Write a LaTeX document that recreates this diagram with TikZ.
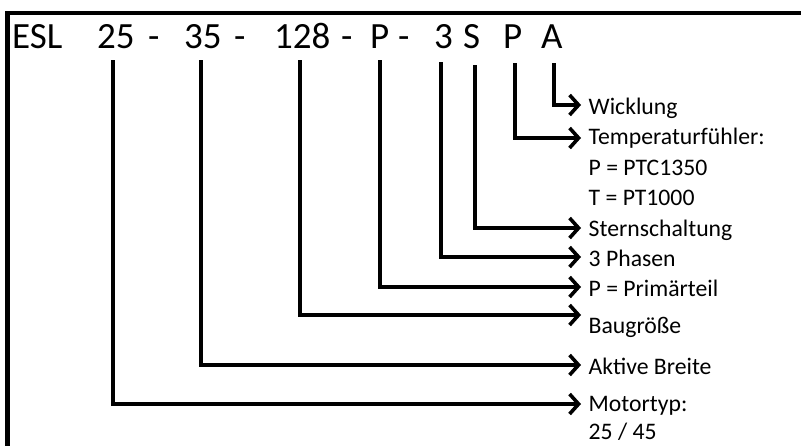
\documentclass[tikz,border=0pt]{standalone}
\usepackage{fontspec}
\setmainfont{Carlito}
\usetikzlibrary{arrows.meta}
\begin{document}
\begin{tikzpicture}[x=1pt,y=-1pt,
  code/.style={anchor=base west,inner sep=0pt,font=\fontsize{37}{44}\selectfont},
  lab/.style={anchor=base west,inner xsep=7.5pt,inner ysep=0pt,text height=19pt,text depth=5pt,font=\fontsize{23.7}{28}\selectfont},
  conn/.style={line width=3.8pt,-{Straight Barb[length=9pt,width=20pt,line width=3.6pt]}},
  frame/.style={line width=4.8pt}]
\useasboundingbox (0,0) rectangle (801,445);
% frame
\draw[frame] (7.5,450) -- (7.5,13) -- (806,13);
% code tokens
\node[code] (esl) at (12,48) {ESL};
\node[code] (n25) at (97,48) {25};
\node[code] (d1) at (148,48) {-};
\node[code] (n35) at (184,48) {35};
\node[code] (d2) at (234,48) {-};
\node[code] (n128) at (274,48) {128};
\node[code] (d3) at (341,48) {-};
\node[code] (nP) at (370,48) {P};
\node[code] (d4) at (398,48) {-};
\node[code] (n3) at (434,48) {3};
\node[code] (nS) at (463,48) {S};
\node[code] (nP2) at (503,48) {P};
\node[code] (nA) at (541,48) {A};
% labels
\node[lab] (wick) at (581,114) {Wicklung};
\node[lab] (temp) at (581,144) {Temperaturfühler:};
\node[lab] (ptc) at (581,175) {P = PTC1350};
\node[lab] (pt) at (581,205) {T = PT1000};
\node[lab] (stern) at (581,236) {Sternschaltung};
\node[lab] (phas) at (581,266) {3 Phasen};
\node[lab] (prim) at (581,296) {P = Primärteil};
\node[lab] (bau) at (581,333) {Baugröße};
\node[lab] (akt) at (581,374) {Aktive Breite};
\node[lab] (mot) at (581,411) {Motortyp:};
\node[lab,text depth=2pt] (mtv) at (581,439) {25 / 45};
% connectors
\draw[conn] ([xshift=2.3pt,yshift=-15pt]nA.south) |- ([yshift=2pt]wick.west);
\draw[conn] ([xshift=2.4pt,yshift=-15pt]nP2.south) |- ([yshift=-1pt]temp.west);
\draw[conn] ([xshift=3.5pt,yshift=-17pt]nS.south) |- ([yshift=1pt]stern.west);
\draw[conn] ([xshift=-2.4pt,yshift=-14pt]n3.south) |- ([yshift=2pt]phas.west);
\draw[conn] ([xshift=0.4pt,yshift=-12pt]nP.south) |- ([yshift=2pt]prim.west);
\draw[conn] ([xshift=-2.1pt,yshift=-12pt]n128.south) |- ([yshift=11pt]bau.west);
\draw[conn] ([xshift=-1.8pt,yshift=-12pt]n35.south) |- ([yshift=2pt]akt.west);
\draw[conn] ([xshift=-2.8pt,yshift=-12pt]n25.south) |- (mot.west);
\end{tikzpicture}
\end{document}
